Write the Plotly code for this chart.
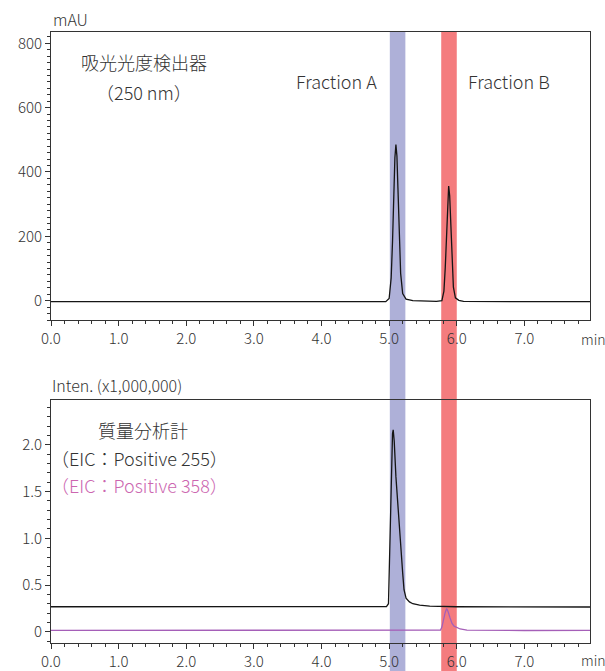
import plotly.graph_objects as go

# ---------------- data ----------------
# UV detector (250 nm), mAU
uv_time = [0.00, 1.00, 2.00, 3.00, 4.00, 4.95, 5.00, 5.03, 5.05, 5.07, 5.085, 5.10,
           5.115, 5.13, 5.15, 5.17, 5.20, 5.25, 5.35, 5.50, 5.70, 5.78, 5.81, 5.83,
           5.85, 5.865, 5.88, 5.895, 5.91, 5.93, 5.95, 5.98, 6.03, 6.10, 6.50, 7.00, 7.97]
uv_mau = [-3, -2, -3, -3, -3, -3, 7, 71, 183, 342, 444, 485,
          450, 350, 200, 85, 22, 5, 0, -1, -2, 0, 30, 103,
          228, 318, 356, 327, 238, 113, 42, 9, 1, -2, -3, -3, -3]

# MS EIC Positive 255 (x1,000,000)
ms255_time = [0.00, 1.00, 2.00, 3.00, 4.00, 4.96, 4.99, 5.00, 5.02, 5.04, 5.05, 5.06,
              5.075, 5.10, 5.12, 5.15, 5.17, 5.20, 5.22, 5.25, 5.30, 5.35, 5.45, 5.60,
              6.00, 6.50, 7.00, 7.97]
ms255_int = [0.268, 0.270, 0.268, 0.268, 0.268, 0.270, 0.30, 0.60, 1.30, 1.95, 2.12, 2.16,
             2.04, 1.66, 1.43, 1.13, 0.88, 0.63, 0.45, 0.36, 0.32, 0.30, 0.285, 0.275,
             0.268, 0.266, 0.265, 0.265]

# MS EIC Positive 358 (x1,000,000)
ms358_time = [0.00, 1.00, 2.00, 3.00, 4.00, 5.00, 5.50, 5.76, 5.78, 5.80, 5.83, 5.85,
              5.87, 5.90, 5.93, 5.96, 6.00, 6.05, 6.15, 6.50, 7.00, 7.97]
ms358_int = [0.015, 0.016, 0.015, 0.014, 0.015, 0.014, 0.015, 0.018, 0.05, 0.12, 0.21, 0.25,
             0.22, 0.15, 0.09, 0.06, 0.045, 0.03, 0.018, 0.015, 0.014, 0.015]

# fraction windows (min)
frac_names = ["Fraction A", "Fraction B"]
frac_start = [5.01, 5.77]
frac_end = [5.24, 6.00]
frac_colors = ["#aeb0d8", "#f47c7e"]

x_ticks = [0, 1, 2, 3, 4, 5, 6, 7]
uv_ticks = [0, 200, 400, 600, 800]
ms_ticks = [0, 0.5, 1.0, 1.5, 2.0]
ms_ticklabels = ["0", "0.5", "1.0", "1.5", "2.0"]

# ---------------- figure ----------------
FONT = "Noto Sans CJK JP, Noto Sans, sans-serif"
TXT = "#333333"
AX = "#333333"
W = 300

fig = go.Figure()
fig.add_trace(go.Scatter(x=uv_time, y=uv_mau, mode="lines", xaxis="x", yaxis="y",
                         line=dict(color="#151515", width=1.3), showlegend=False,
                         hoverinfo="skip"))
fig.add_trace(go.Scatter(x=ms255_time, y=ms255_int, mode="lines", xaxis="x2", yaxis="y2",
                         line=dict(color="#151515", width=1.3), showlegend=False,
                         hoverinfo="skip"))
fig.add_trace(go.Scatter(x=ms358_time, y=ms358_int, mode="lines", xaxis="x2", yaxis="y2",
                         line=dict(color="#a55fb8", width=1.3), showlegend=False,
                         hoverinfo="skip"))

common_x = dict(range=[0, 7.97], tickvals=x_ticks, tickformat=".1f", ticks="outside",
                ticklen=5, tickwidth=1, tickcolor=AX, showline=True, linecolor=AX,
                linewidth=1, mirror=True, showgrid=False, zeroline=False, automargin=False,
                minor=dict(dtick=0.2, tick0=0, ticks="outside", ticklen=3, tickcolor=AX,
                           showgrid=False),
                tickfont=dict(family=FONT, size=15, color=TXT, weight=W))
common_y = dict(ticks="outside", ticklen=5, tickwidth=1, tickcolor=AX, showline=True,
                linecolor=AX, linewidth=1, mirror=True, showgrid=False, zeroline=False,
                automargin=False,
                tickfont=dict(family=FONT, size=15, color=TXT, weight=W))

top_dom = [0.5286, 1.0]
bot_dom = [0.0, 0.3977]

fig.update_layout(
    width=605, height=671,
    margin=dict(l=51, r=15, t=32, b=28, autoexpand=False),
    paper_bgcolor="white", plot_bgcolor="rgba(0,0,0,0)",
    showlegend=False,
    font=dict(family=FONT, size=15, color=TXT),
    xaxis=dict(domain=[0, 1], anchor="y", **common_x),
    yaxis=dict(domain=top_dom, anchor="x", range=[-60, 835], tickvals=uv_ticks,
               minor=dict(dtick=20, tick0=0, ticks="outside", ticklen=3, tickcolor=AX,
                          showgrid=False), **common_y),
    xaxis2=dict(domain=[0, 1], anchor="y2", **common_x),
    yaxis2=dict(domain=bot_dom, anchor="x2", range=[-0.12, 2.48], tickvals=ms_ticks,
                ticktext=ms_ticklabels,
                minor=dict(dtick=0.1, tick0=0, ticks="outside", ticklen=3, tickcolor=AX,
                           showgrid=False), **common_y),
)

for x0, x1, col in zip(frac_start, frac_end, frac_colors):
    fig.add_shape(type="rect", xref="x", yref="paper", x0=x0, x1=x1, y0=-0.1, y1=1.0,
                  fillcolor=col, line=dict(width=0), layer="below")

def ann(text, x, y, size=18, color=TXT, xanchor="center"):
    fig.add_annotation(text=text, x=x, y=y, xref="paper", yref="paper", showarrow=False,
                       xanchor=xanchor, yanchor="middle",
                       font=dict(family=FONT, size=size, color=color, weight=W))

ann("吸光光度検出器", 0.1725, 0.951, 18)
ann("（250 nm）", 0.1725, 0.902, 18)
ann(frac_names[0], 0.5306, 0.9198, 18)
ann(frac_names[1], 0.849, 0.9198, 18)
ann("質量分析計", 0.1707, 0.3486, 18)
ann("（EIC：Positive 255）", 0.165, 0.3028, 18)
ann("（EIC：Positive 358）", 0.165, 0.2586, 18, color="#cc66b0")
ann("mAU", 0.0, 1.0213, 16, xanchor="left")
ann("Inten. (x1,000,000)", -0.002, 0.4223, 16, xanchor="left")
ann("min", 0.980, 0.4975, 14, xanchor="left")
ann("min", 0.980, -0.0278, 14, xanchor="left")

# remove the default 8px page margin so the figure fills the window exactly
fig.write_html("out.html", config={"displayModeBar": False},
               post_script="document.body.style.margin='0';document.body.style.overflow='hidden';")
